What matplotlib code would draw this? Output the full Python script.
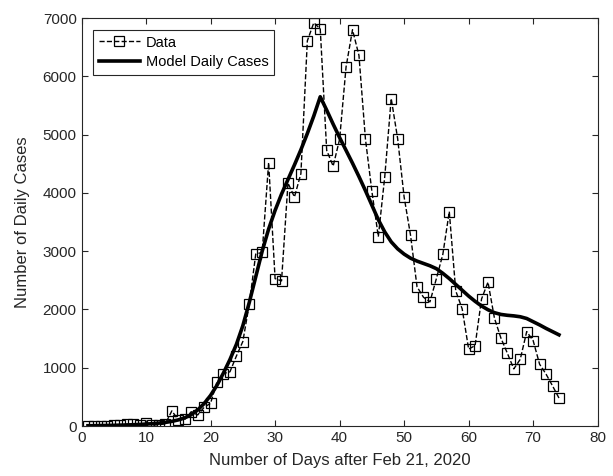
import numpy as np
import matplotlib
matplotlib.use('Agg')
import matplotlib.pyplot as plt

plt.rcParams['font.family'] = ['Liberation Sans', 'DejaVu Sans']

# Daily reported cases, days 1..74 after Feb 21, 2020
days = list(range(1, 75))
data_cases = [1, 0, 2, 2, 20, 20, 30, 30, 10, 60,
              20, 20, 40, 260, 105, 115, 245, 190, 320, 390,
              760, 900, 930, 1200, 1450, 2090, 2950, 2980, 4520, 2530,
              2490, 4170, 3930, 4330, 6610, 6920, 6815, 4730, 4460, 4920,
              6160, 6800, 6360, 4930, 4030, 3250, 4280, 5620, 4930, 3930,
              3270, 2390, 2210, 2130, 2530, 2945, 3680, 2320, 2010, 1320,
              1380, 2180, 2470, 1850, 1510, 1250, 980, 1145, 1620, 1465,
              1060, 890, 690, 480]

# Model daily cases on the same days
model_cases = [5, 6, 8, 10, 12, 15, 18, 22, 27, 33,
               40, 50, 62, 80, 105, 140, 195, 275, 385, 525,
               700, 910, 1140, 1400, 1720, 2120, 2560, 3000, 3380, 3700,
               3980, 4230, 4480, 4740, 5020, 5320, 5650, 5420, 5180, 4950,
               4730, 4510, 4280, 4040, 3790, 3540, 3330, 3160, 3040, 2950,
               2880, 2830, 2790, 2750, 2700, 2620, 2530, 2430, 2330, 2230,
               2140, 2060, 1995, 1945, 1915, 1900, 1890, 1875, 1845, 1790,
               1735, 1675, 1620, 1565]

fig = plt.figure(figsize=(6.13, 4.76), dpi=100)
ax = fig.add_axes([0.133, 0.105, 0.842, 0.857])

ax.plot(days, data_cases, linestyle='--', color='black', linewidth=1,
        marker='s', markersize=6.5, markerfacecolor='none',
        markeredgecolor='black', markeredgewidth=0.9, label='Data')
ax.plot(days, model_cases, color='black', linewidth=2.6,
        label='Model Daily Cases')

ax.set_xlim(0, 80)
ax.set_ylim(0, 7000)
ax.set_xticks(range(0, 81, 10))
ax.set_yticks(range(0, 7001, 1000))
ax.tick_params(direction='in', top=True, right=True, labelsize=11,
               colors='#262626', length=4)
for s in ax.spines.values():
    s.set_color('#262626')
    s.set_linewidth(0.8)

ax.set_xlabel('Number of Days after Feb 21, 2020', fontsize=12,
              color='#262626', labelpad=6)
ax.set_ylabel('Number of Daily Cases', fontsize=12, color='#262626',
              labelpad=9)

leg = ax.legend(loc='upper left', fontsize=10.5, fancybox=False,
                edgecolor='#262626', framealpha=1, handlelength=2.8,
                borderaxespad=0.8, labelspacing=0.35, handletextpad=0.4)
leg.get_frame().set_linewidth(0.8)

fig.savefig('out.png', dpi=100)
